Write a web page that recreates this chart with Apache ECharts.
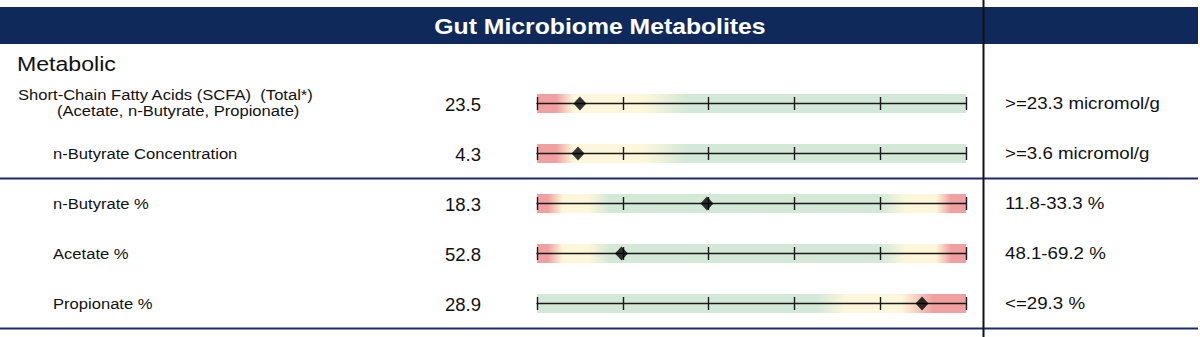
<!DOCTYPE html>
<html><head><meta charset="utf-8">
<script src="https://cdn.jsdelivr.net/npm/echarts@6/dist/echarts.min.js"></script>
<style>html,body{margin:0;padding:0;background:#fff}#c{width:1200px;height:337px}</style>
</head><body><div id="c"></div>
<script>
// ---- data ----
const title = 'Gut Microbiome Metabolites';
const section = 'Metabolic';
const categories = [
  'Short-Chain Fatty Acids (SCFA)  (Total*)\n(Acetate, n-Butyrate, Propionate)',
  'n-Butyrate Concentration',
  'n-Butyrate %',
  'Acetate %',
  'Propionate %'
];
const values = [23.5, 4.3, 18.3, 52.8, 28.9];
const refRanges = ['>=23.3 micromol/g', '>=3.6 micromol/g', '11.8-33.3 %', '48.1-69.2 %', '<=29.3 %'];
const scaleMin = [20, 3, 0, 40, 0];
const scaleMax = [55, 16.6, 46.2, 105, 32.2];
const bandTypes = ['low', 'low', 'both', 'both', 'high'];

// ---- layout / style ----
const FONT = '"Liberation Sans", Arial, Helvetica, sans-serif';
const rowY = [103.5, 153.5, 203.5, 253.5, 303.5];
const barL = 537, barW = 429, bandH = 19, tickH = 13;
const RED = '#f0a0a0', YEL = '#fcf7da', GRN = '#d3e8d7';
const stopsByType = {
  low: [[0, RED], [0.045, RED], [0.085, YEL], [0.25, YEL], [0.35, GRN], [1, GRN]],
  both: [[0, RED], [0.025, RED], [0.06, YEL], [0.12, YEL], [0.17, GRN], [0.8, GRN], [0.86, YEL], [0.93, YEL], [0.965, RED], [1, RED]],
  high: [[0, GRN], [0.65, GRN], [0.72, YEL], [0.85, YEL], [0.925, RED], [1, RED]]
};

function txt(text, x, y, size, sx, opts) {
  opts = opts || {};
  return {
    type: 'text', x: x, y: y, scaleX: sx, z: 20,
    style: {
      text: text, fill: opts.fill || '#111',
      font: (opts.bold ? 'bold ' : '') + size + 'px ' + FONT,
      align: opts.align || 'left', verticalAlign: 'middle'
    }
  };
}

const grids = [], xAxes = [], yAxes = [], series = [];
categories.forEach(function (cat, i) {
  const cy = rowY[i];
  grids.push({ left: barL, width: barW, top: cy - bandH / 2, height: bandH });
  xAxes.push({ type: 'value', gridIndex: 2 * i, min: scaleMin[i], max: scaleMax[i], show: false });
  yAxes.push({ type: 'value', gridIndex: 2 * i, min: -1, max: 1, show: false });
  grids.push({ left: barL, width: barW, top: cy - tickH / 2, height: tickH });
  xAxes.push({
    type: 'value', gridIndex: 2 * i + 1, min: 0, max: 5, interval: 1, z: 5,
    axisLabel: { show: false }, axisTick: { show: false },
    axisLine: { show: true, onZero: true, lineStyle: { color: '#1a1a1a', width: 1.4 } },
    splitLine: { show: true, lineStyle: { color: '#1a1a1a', width: 1.4 } }
  });
  yAxes.push({ type: 'value', gridIndex: 2 * i + 1, min: -1, max: 1, show: false, splitLine: { show: false } });

  const stops = stopsByType[bandTypes[i]].map(function (s) { return { offset: s[0], color: s[1] }; });
  series.push({
    type: 'custom', xAxisIndex: 2 * i, yAxisIndex: 2 * i, z: 1, silent: true,
    data: [[scaleMin[i], scaleMax[i]]],
    renderItem: function (params, api) {
      const p0 = api.coord([api.value(0), 1]);
      const p1 = api.coord([api.value(1), -1]);
      return {
        type: 'rect',
        shape: { x: p0[0], y: p0[1], width: p1[0] - p0[0], height: p1[1] - p0[1] },
        style: { fill: new echarts.graphic.LinearGradient(0, 0, 1, 0, stops) }
      };
    }
  });
  series.push({
    type: 'scatter', xAxisIndex: 2 * i, yAxisIndex: 2 * i, z: 10, silent: true,
    symbol: 'diamond', symbolSize: [13, 14],
    itemStyle: { color: '#000' },
    data: [[values[i], 0]]
  });
});

const graphics = [
  { type: 'rect', shape: { x: 0, y: 7, width: 1198, height: 37 }, style: { fill: '#0f2a5a' }, z: 1 },
  txt(title, 600, 26, 22.5, 1.1, { bold: true, fill: '#fff', align: 'center' }),
  { type: 'line', shape: { x1: 983.5, y1: 0, x2: 983.5, y2: 337 }, style: { stroke: '#111', lineWidth: 2 }, z: 15 },
  { type: 'line', shape: { x1: 0, y1: 178.5, x2: 1198, y2: 178.5 }, style: { stroke: '#1c2b6e', lineWidth: 2 }, z: 14 },
  { type: 'line', shape: { x1: 0, y1: 328.5, x2: 1198, y2: 328.5 }, style: { stroke: '#1c2b6e', lineWidth: 2 }, z: 14 },
  txt(section, 17, 64, 21, 1.1)
];
categories.forEach(function (cat, i) {
  const lines = cat.split('\n');
  if (lines.length > 1) {
    graphics.push(txt(lines[0], 18, rowY[i] - 9, 15.5, 1.07));
    graphics.push(txt(lines[1], 57, rowY[i] + 6.5, 15.5, 1.07));
  } else {
    graphics.push(txt(lines[0], 53, rowY[i], 15.5, 1.07));
  }
  graphics.push(txt(values[i].toFixed(1), 481, rowY[i] + 1, 18, 1.03, { align: 'right' }));
  graphics.push(txt(refRanges[i], 1005, rowY[i], 17, 1.1));
});

const chart = echarts.init(document.getElementById('c'), null, { renderer: 'svg' });
chart.setOption({
  animation: false,
  backgroundColor: '#fff',
  grid: grids, xAxis: xAxes, yAxis: yAxes, series: series,
  graphic: { elements: graphics }
});
</script></body></html>
